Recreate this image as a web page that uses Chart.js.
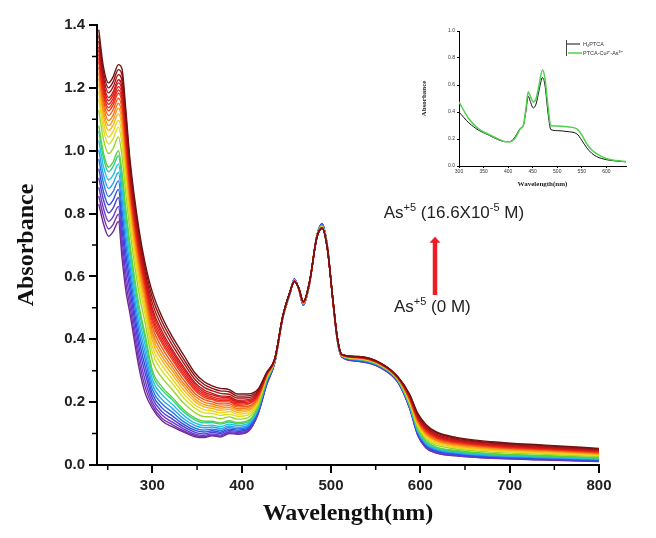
<!DOCTYPE html>
<html>
<head>
<meta charset="utf-8">
<title>PTCA + As(V) absorption spectra</title>
<script src="https://cdn.jsdelivr.net/npm/chart.js@4.4.1/dist/chart.umd.min.js"></script>
<style>
  html, body { margin: 0; padding: 0; background: #fff; }
  #wrap { position: relative; width: 656px; height: 538px; }
  #main { position: absolute; left: 0; top: 0; }
  #inset { position: absolute; left: 415px; top: 22px; }
</style>
</head>
<body>
<div id="wrap">
  <canvas id="main" width="656" height="538"></canvas>
  <canvas id="inset" width="220" height="172"></canvas>
</div>
<script>
// wavelength grid of the titration spectra (nm)
const wavelength = [240, 245, 251, 256, 262, 266, 270, 275, 285, 292, 300, 311, 322, 335, 348, 358, 367, 376, 386, 395, 407, 418, 428, 437, 446, 454, 459, 464, 469, 476, 484, 490, 496, 502, 507, 512, 530, 555, 575, 588, 597, 606, 618, 640, 680, 740, 800];

// absorbance for each As(V) addition, 0 M -> 16.6x10^-5 M
const abs00 = [0.83,0.77,0.728,0.742,0.775,0.66,0.56,0.48,0.31,0.228,0.18,0.14,0.122,0.105,0.09,0.087,0.093,0.089,0.1,0.098,0.106,0.16,0.255,0.325,0.468,0.545,0.592,0.558,0.508,0.578,0.728,0.768,0.694,0.524,0.398,0.344,0.33,0.31,0.262,0.18,0.095,0.055,0.038,0.029,0.021,0.016,0.011];
const abs01 = [0.856,0.794,0.751,0.765,0.798,0.688,0.587,0.503,0.331,0.247,0.189,0.148,0.129,0.109,0.094,0.090,0.096,0.092,0.103,0.100,0.108,0.161,0.257,0.326,0.468,0.545,0.592,0.558,0.509,0.578,0.728,0.767,0.694,0.524,0.398,0.344,0.331,0.311,0.263,0.181,0.096,0.056,0.039,0.030,0.022,0.017,0.012];
const abs02 = [0.884,0.819,0.775,0.790,0.823,0.718,0.616,0.528,0.353,0.268,0.200,0.158,0.137,0.115,0.098,0.094,0.099,0.095,0.106,0.103,0.111,0.163,0.259,0.326,0.469,0.546,0.591,0.558,0.509,0.579,0.727,0.766,0.693,0.524,0.399,0.345,0.332,0.312,0.264,0.182,0.098,0.058,0.041,0.031,0.023,0.018,0.013];
const abs03 = [0.914,0.846,0.802,0.817,0.851,0.751,0.648,0.555,0.377,0.291,0.213,0.169,0.147,0.122,0.104,0.099,0.104,0.100,0.110,0.107,0.114,0.165,0.261,0.327,0.469,0.546,0.591,0.559,0.510,0.579,0.727,0.766,0.693,0.525,0.399,0.345,0.332,0.312,0.265,0.183,0.100,0.060,0.043,0.033,0.025,0.019,0.014];
const abs04 = [0.943,0.872,0.828,0.843,0.877,0.782,0.678,0.580,0.400,0.312,0.226,0.181,0.157,0.129,0.110,0.105,0.109,0.104,0.114,0.111,0.118,0.168,0.263,0.328,0.469,0.546,0.590,0.559,0.510,0.579,0.727,0.765,0.692,0.525,0.400,0.346,0.333,0.313,0.266,0.185,0.102,0.062,0.045,0.035,0.026,0.021,0.015];
const abs05 = [0.974,0.900,0.854,0.870,0.904,0.815,0.710,0.607,0.424,0.335,0.240,0.194,0.169,0.138,0.117,0.111,0.114,0.110,0.119,0.115,0.122,0.171,0.265,0.328,0.470,0.547,0.590,0.559,0.511,0.580,0.726,0.764,0.692,0.525,0.400,0.346,0.334,0.314,0.267,0.186,0.104,0.065,0.047,0.037,0.028,0.022,0.017];
const abs06 = [1.003,0.926,0.880,0.896,0.931,0.847,0.741,0.633,0.447,0.357,0.256,0.208,0.181,0.147,0.125,0.118,0.121,0.116,0.124,0.120,0.127,0.174,0.268,0.329,0.470,0.547,0.590,0.559,0.512,0.580,0.726,0.763,0.692,0.525,0.401,0.347,0.335,0.315,0.268,0.188,0.107,0.068,0.050,0.039,0.030,0.024,0.018];
const abs07 = [1.033,0.953,0.907,0.922,0.958,0.880,0.772,0.659,0.471,0.379,0.273,0.223,0.194,0.158,0.133,0.125,0.127,0.122,0.130,0.126,0.132,0.177,0.270,0.330,0.470,0.547,0.589,0.560,0.512,0.580,0.726,0.762,0.691,0.526,0.401,0.347,0.336,0.316,0.269,0.190,0.110,0.071,0.052,0.042,0.032,0.026,0.020];
const abs08 = [1.063,0.980,0.933,0.949,0.984,0.911,0.803,0.685,0.494,0.401,0.290,0.238,0.208,0.169,0.143,0.134,0.135,0.130,0.137,0.131,0.137,0.181,0.272,0.330,0.471,0.548,0.589,0.560,0.513,0.581,0.726,0.761,0.691,0.526,0.401,0.347,0.336,0.316,0.270,0.192,0.113,0.075,0.056,0.044,0.035,0.028,0.022];
const abs09 = [1.080,0.996,0.948,0.964,1.000,0.931,0.822,0.701,0.508,0.414,0.301,0.248,0.216,0.176,0.149,0.139,0.139,0.134,0.141,0.135,0.141,0.183,0.273,0.331,0.471,0.548,0.588,0.560,0.513,0.581,0.725,0.761,0.690,0.526,0.402,0.348,0.337,0.317,0.270,0.193,0.115,0.077,0.057,0.046,0.036,0.030,0.023];
const abs10 = [1.129,1.039,0.991,1.007,1.044,0.983,0.872,0.744,0.547,0.450,0.333,0.277,0.241,0.197,0.166,0.154,0.153,0.147,0.153,0.146,0.151,0.190,0.277,0.332,0.471,0.548,0.588,0.560,0.515,0.581,0.725,0.759,0.690,0.526,0.402,0.348,0.338,0.318,0.272,0.197,0.121,0.083,0.063,0.051,0.041,0.034,0.027];
const abs11 = [1.164,1.071,1.021,1.038,1.075,1.021,0.909,0.775,0.574,0.476,0.358,0.299,0.261,0.214,0.180,0.166,0.164,0.158,0.162,0.155,0.159,0.196,0.279,0.333,0.472,0.549,0.587,0.560,0.515,0.582,0.724,0.758,0.689,0.526,0.403,0.349,0.339,0.319,0.273,0.200,0.126,0.088,0.068,0.055,0.045,0.037,0.030];
const abs12 = [1.189,1.093,1.043,1.061,1.097,1.048,0.935,0.797,0.594,0.494,0.377,0.316,0.275,0.227,0.190,0.176,0.172,0.166,0.170,0.162,0.166,0.200,0.281,0.333,0.472,0.549,0.587,0.561,0.516,0.582,0.724,0.758,0.689,0.527,0.403,0.349,0.340,0.320,0.274,0.202,0.130,0.092,0.071,0.058,0.047,0.039,0.032];
const abs13 = [1.212,1.114,1.064,1.081,1.118,1.073,0.959,0.817,0.613,0.512,0.395,0.332,0.289,0.239,0.201,0.185,0.180,0.174,0.177,0.168,0.172,0.204,0.283,0.334,0.472,0.549,0.587,0.561,0.516,0.582,0.724,0.757,0.689,0.527,0.404,0.350,0.340,0.320,0.274,0.205,0.133,0.096,0.075,0.061,0.050,0.042,0.034];
const abs14 = [1.230,1.131,1.080,1.098,1.135,1.093,0.978,0.833,0.627,0.525,0.410,0.345,0.301,0.250,0.209,0.192,0.187,0.181,0.183,0.174,0.177,0.207,0.284,0.334,0.472,0.549,0.586,0.561,0.517,0.582,0.724,0.756,0.688,0.527,0.404,0.350,0.341,0.321,0.275,0.207,0.136,0.099,0.078,0.064,0.052,0.044,0.036];
const abs15 = [1.248,1.147,1.096,1.113,1.151,1.112,0.997,0.849,0.641,0.538,0.424,0.358,0.312,0.260,0.218,0.200,0.194,0.187,0.189,0.179,0.182,0.211,0.285,0.335,0.473,0.550,0.586,0.561,0.517,0.583,0.724,0.756,0.688,0.527,0.404,0.350,0.341,0.321,0.276,0.208,0.139,0.102,0.080,0.066,0.055,0.046,0.038];
const abs16 = [1.266,1.163,1.112,1.130,1.167,1.132,1.016,0.865,0.656,0.552,0.440,0.372,0.324,0.271,0.227,0.208,0.201,0.194,0.195,0.185,0.187,0.214,0.286,0.335,0.473,0.550,0.586,0.561,0.517,0.583,0.723,0.755,0.688,0.527,0.404,0.350,0.342,0.322,0.276,0.210,0.142,0.106,0.083,0.069,0.057,0.048,0.039];
const abs17 = [1.284,1.179,1.127,1.145,1.183,1.151,1.034,0.881,0.670,0.565,0.455,0.386,0.336,0.282,0.236,0.215,0.208,0.201,0.201,0.190,0.193,0.218,0.288,0.336,0.473,0.550,0.586,0.561,0.518,0.583,0.723,0.755,0.688,0.527,0.405,0.351,0.342,0.322,0.277,0.212,0.146,0.109,0.086,0.072,0.059,0.050,0.041];
const abs18 = [1.295,1.189,1.137,1.155,1.193,1.163,1.046,0.891,0.679,0.573,0.465,0.394,0.344,0.289,0.242,0.221,0.212,0.205,0.205,0.194,0.196,0.220,0.289,0.336,0.473,0.550,0.585,0.561,0.518,0.583,0.723,0.755,0.687,0.527,0.405,0.351,0.343,0.323,0.277,0.214,0.148,0.111,0.088,0.073,0.061,0.051,0.043];
const abs19 = [1.307,1.200,1.148,1.166,1.204,1.176,1.059,0.901,0.688,0.582,0.476,0.404,0.352,0.297,0.248,0.226,0.217,0.210,0.210,0.198,0.200,0.223,0.289,0.336,0.473,0.550,0.585,0.561,0.518,0.583,0.723,0.754,0.687,0.527,0.405,0.351,0.343,0.323,0.278,0.215,0.150,0.114,0.090,0.075,0.062,0.053,0.044];
const abs20 = [1.320,1.212,1.159,1.177,1.216,1.190,1.072,0.913,0.699,0.592,0.488,0.414,0.361,0.305,0.255,0.232,0.223,0.216,0.214,0.202,0.204,0.225,0.290,0.337,0.473,0.550,0.585,0.562,0.519,0.583,0.723,0.754,0.687,0.528,0.405,0.351,0.343,0.323,0.278,0.217,0.152,0.116,0.093,0.077,0.064,0.054,0.045];
const abs21 = [1.331,1.222,1.169,1.187,1.226,1.202,1.084,0.923,0.707,0.600,0.498,0.424,0.369,0.312,0.261,0.238,0.228,0.220,0.218,0.206,0.208,0.228,0.291,0.337,0.473,0.550,0.585,0.562,0.519,0.583,0.723,0.754,0.687,0.528,0.405,0.351,0.344,0.324,0.278,0.218,0.154,0.119,0.095,0.079,0.066,0.056,0.047];
const abs22 = [1.349,1.238,1.184,1.203,1.242,1.221,1.102,0.938,0.721,0.613,0.515,0.439,0.383,0.325,0.271,0.247,0.236,0.228,0.225,0.213,0.214,0.232,0.292,0.337,0.474,0.551,0.585,0.562,0.519,0.584,0.722,0.753,0.687,0.528,0.406,0.352,0.344,0.324,0.279,0.220,0.158,0.122,0.098,0.082,0.069,0.058,0.049];
const abs23 = [1.367,1.254,1.200,1.219,1.258,1.241,1.121,0.954,0.736,0.627,0.533,0.455,0.397,0.337,0.282,0.256,0.244,0.236,0.233,0.219,0.220,0.236,0.294,0.338,0.474,0.551,0.584,0.562,0.520,0.584,0.722,0.753,0.686,0.528,0.406,0.352,0.345,0.325,0.279,0.223,0.161,0.126,0.102,0.085,0.071,0.061,0.051];
const abs24 = [1.385,1.270,1.216,1.235,1.274,1.260,1.140,0.970,0.750,0.640,0.550,0.470,0.410,0.350,0.292,0.265,0.252,0.244,0.240,0.226,0.226,0.240,0.295,0.338,0.474,0.551,0.584,0.562,0.520,0.584,0.722,0.752,0.686,0.528,0.406,0.352,0.345,0.325,0.280,0.225,0.165,0.130,0.105,0.088,0.074,0.063,0.053];

const spectra = [abs00, abs01, abs02, abs03, abs04, abs05, abs06, abs07, abs08, abs09, abs10, abs11, abs12,
                 abs13, abs14, abs15, abs16, abs17, abs18, abs19, abs20, abs21, abs22, abs23, abs24];

// rainbow, purple (no As) to dark red (last addition)
const lineColors = ['#6b2a8f', '#7a2fb0', '#6a3ad0', '#4b3fd6', '#2f4fe0', '#2a74e8', '#2aa0ee', '#20c4e0',
                    '#30d090', '#5cd040', '#9ad62a', '#d8e020', '#f4d21a', '#f8b418', '#f89a18', '#f47c18',
                    '#f05a18', '#ee3c18', '#ec2a18', '#e81e1e', '#d81a1a', '#c41818', '#a81616', '#8e1414', '#741212'];

const xMajorTicks = [300, 400, 500, 600, 700, 800];
const xMinorTicks = [250, 350, 450, 550, 650, 750];
const yMinorTicks = [0.1, 0.3, 0.5, 0.7, 0.9, 1.1, 1.3];

// inset: free ligand vs. ligand + Cu2+ + As5+
const insetWavelength = [300, 320, 340, 360, 380, 395, 405, 415, 425, 431, 436, 441, 446, 451, 457, 463, 470, 475, 481, 487, 500, 520, 540, 550, 560, 570, 580, 600, 620, 640];
const insetLigand  = [0.40, 0.32, 0.265, 0.23, 0.195, 0.18, 0.182, 0.22, 0.28, 0.30, 0.40, 0.515, 0.47, 0.43, 0.46, 0.56, 0.655, 0.60, 0.40, 0.27, 0.262, 0.255, 0.238, 0.19, 0.135, 0.095, 0.07, 0.047, 0.037, 0.031];
const insetComplex = [0.475, 0.35, 0.275, 0.235, 0.20, 0.18, 0.18, 0.21, 0.275, 0.30, 0.42, 0.55, 0.51, 0.475, 0.50, 0.60, 0.712, 0.65, 0.45, 0.30, 0.296, 0.29, 0.275, 0.23, 0.165, 0.12, 0.092, 0.055, 0.04, 0.034];
const insetXTicks = [300, 350, 400, 450, 500, 550, 600];

const serif = "'Times New Roman', 'Liberation Serif', serif";
const sans = "Arial, 'Liberation Sans', sans-serif";

function xy(xs, ys) {
  return ys.map((v, k) => ({ x: xs[k], y: v }));
}

// draws text runs, some of them raised as superscripts
function drawRich(ctx, parts, x, y) {
  let cx = x;
  parts.forEach(p => {
    ctx.font = p.size + 'px ' + sans;
    ctx.fillText(p.text, cx, y + p.dy);
    cx += ctx.measureText(p.text).width;
  });
}

const minorTicks = {
  id: 'minorTicks',
  afterDraw(chart) {
    const { ctx, scales: { x, y } } = chart;
    ctx.save();
    ctx.strokeStyle = '#000';
    ctx.lineWidth = 1.5;
    ctx.beginPath();
    xMinorTicks.forEach(v => {
      const px = x.getPixelForValue(v);
      ctx.moveTo(px, y.bottom);
      ctx.lineTo(px, y.bottom + 5);
    });
    yMinorTicks.forEach(v => {
      const py = y.getPixelForValue(v);
      ctx.moveTo(x.left - 5, py);
      ctx.lineTo(x.left, py);
    });
    ctx.stroke();
    ctx.restore();
  }
};

// concentration labels and the red arrow
const titrationNote = {
  id: 'titrationNote',
  afterDraw(chart) {
    const { ctx, scales: { x, y } } = chart;
    ctx.save();
    ctx.fillStyle = '#222';
    ctx.textBaseline = 'alphabetic';
    drawRich(ctx, [
      { text: 'As', size: 17, dy: 0 },
      { text: '+5', size: 11, dy: -7 },
      { text: ' (16.6X10', size: 17, dy: 0 },
      { text: '-5', size: 11, dy: -7 },
      { text: ' M)', size: 17, dy: 0 }
    ], x.getPixelForValue(559), y.getPixelForValue(0.787));
    drawRich(ctx, [
      { text: 'As', size: 17, dy: 0 },
      { text: '+5', size: 11, dy: -7 },
      { text: ' (0 M)', size: 17, dy: 0 }
    ], x.getPixelForValue(570.5), y.getPixelForValue(0.488));

    const ax = x.getPixelForValue(616.4);
    const yTop = y.getPixelForValue(0.726);
    const yBot = y.getPixelForValue(0.541);
    ctx.strokeStyle = '#ee1c24';
    ctx.fillStyle = '#ee1c24';
    ctx.lineWidth = 4.5;
    ctx.beginPath();
    ctx.moveTo(ax, yBot);
    ctx.lineTo(ax, yTop + 5);
    ctx.stroke();
    ctx.beginPath();
    ctx.moveTo(ax, yTop);
    ctx.lineTo(ax - 5.5, yTop + 6);
    ctx.lineTo(ax + 5.5, yTop + 6);
    ctx.closePath();
    ctx.fill();
    ctx.restore();
  }
};

new Chart(document.getElementById('main'), {
  type: 'line',
  data: {
    datasets: spectra.map((vals, i) => ({
      label: 'As(V) addition ' + i,
      data: xy(wavelength, vals),
      borderColor: lineColors[i],
      order: spectra.length - i
    }))
  },
  options: {
    responsive: false,
    animation: false,
    devicePixelRatio: 1,
    layout: { padding: { left: 0, right: 57, top: 25, bottom: 0 } },
    elements: {
      point: { radius: 0 },
      line: { borderWidth: 1.4, cubicInterpolationMode: 'monotone', fill: false }
    },
    plugins: { legend: { display: false }, tooltip: { enabled: false } },
    scales: {
      x: {
        type: 'linear',
        min: 238,
        max: 800,
        afterBuildTicks: s => { s.ticks = xMajorTicks.map(v => ({ value: v })); },
        afterFit: s => { s.height = 73; },
        border: { color: '#000', width: 2 },
        grid: { drawOnChartArea: false, tickLength: 8, color: '#000', lineWidth: 2 },
        ticks: { font: { family: sans, size: 15, weight: 'bold' }, color: '#222', padding: 4, maxRotation: 0, autoSkip: false },
        title: { display: true, text: 'Wavelength(nm)', color: '#111',
                 font: { family: serif, size: 24, weight: 'bold' }, padding: { top: 0, bottom: 10 } }
      },
      y: {
        min: 0,
        max: 1.4,
        afterFit: s => { s.width = 97; },
        border: { color: '#000', width: 2 },
        grid: { drawOnChartArea: false, tickLength: 8, color: '#000', lineWidth: 2 },
        ticks: { stepSize: 0.2, callback: v => v.toFixed(1),
                 font: { family: sans, size: 15, weight: 'bold' }, color: '#222', padding: 4 },
        title: { display: true, text: 'Absorbance', color: '#111',
                 font: { family: serif, size: 24, weight: 'bold' }, padding: { top: 12, bottom: 0 } }
      }
    }
  },
  plugins: [minorTicks, titrationNote]
});

// little legend inside the inset
const insetKey = {
  id: 'insetKey',
  afterDraw(chart) {
    const ctx = chart.ctx;
    ctx.save();
    ctx.lineWidth = 1;
    ctx.strokeStyle = '#444';
    ctx.beginPath();
    ctx.moveTo(151.5, 18);
    ctx.lineTo(151.5, 34);
    ctx.stroke();
    ctx.strokeStyle = '#111';
    ctx.beginPath();
    ctx.moveTo(152, 22);
    ctx.lineTo(165, 22);
    ctx.stroke();
    ctx.strokeStyle = '#4fd24f';
    ctx.lineWidth = 1.5;
    ctx.beginPath();
    ctx.moveTo(153, 31);
    ctx.lineTo(167, 31);
    ctx.stroke();
    ctx.fillStyle = '#333';
    ctx.font = '5.5px ' + sans;
    ctx.textBaseline = 'middle';
    ctx.fillText('H\u2084PTCA', 168, 22);
    ctx.fillText('PTCA-Cu\u00b2\u207a-As\u2075\u207a', 168, 31);
    ctx.restore();
  }
};

new Chart(document.getElementById('inset'), {
  type: 'line',
  data: {
    datasets: [
      { label: 'H4PTCA', data: xy(insetWavelength, insetLigand), borderColor: '#111', borderWidth: 1, order: 1 },
      { label: 'PTCA-Cu-As', data: xy(insetWavelength, insetComplex), borderColor: '#4fd24f', borderWidth: 1.5, order: 0 }
    ]
  },
  options: {
    responsive: false,
    animation: false,
    devicePixelRatio: 1,
    layout: { padding: { left: 0, right: 9, top: 9, bottom: 0 } },
    elements: { point: { radius: 0 }, line: { cubicInterpolationMode: 'monotone', fill: false } },
    plugins: { legend: { display: false }, tooltip: { enabled: false } },
    scales: {
      x: {
        type: 'linear',
        min: 300,
        max: 640,
        afterBuildTicks: s => { s.ticks = insetXTicks.map(v => ({ value: v })); },
        afterFit: s => { s.height = 28; },
        border: { color: '#000', width: 1 },
        grid: { drawOnChartArea: false, tickLength: 2, color: '#000', lineWidth: 1 },
        ticks: { font: { family: sans, size: 5 }, color: '#333', padding: 1, maxRotation: 0, autoSkip: false },
        title: { display: true, text: 'Wavelength(nm)', color: '#222',
                 font: { family: serif, size: 7, weight: 'bold' }, padding: { top: 0, bottom: 6 } }
      },
      y: {
        min: 0,
        max: 1.0,
        afterFit: s => { s.width = 44; },
        border: { color: '#000', width: 1 },
        grid: { drawOnChartArea: false, tickLength: 2, color: '#000', lineWidth: 1 },
        ticks: { stepSize: 0.2, callback: v => v.toFixed(1), font: { family: sans, size: 5 }, color: '#333', padding: 2 },
        title: { display: true, text: 'Absorbance', color: '#222',
                 font: { family: serif, size: 7, weight: 'bold' }, padding: { top: 5, bottom: 0 } }
      }
    }
  },
  plugins: [insetKey]
});
</script>
</body>
</html>
